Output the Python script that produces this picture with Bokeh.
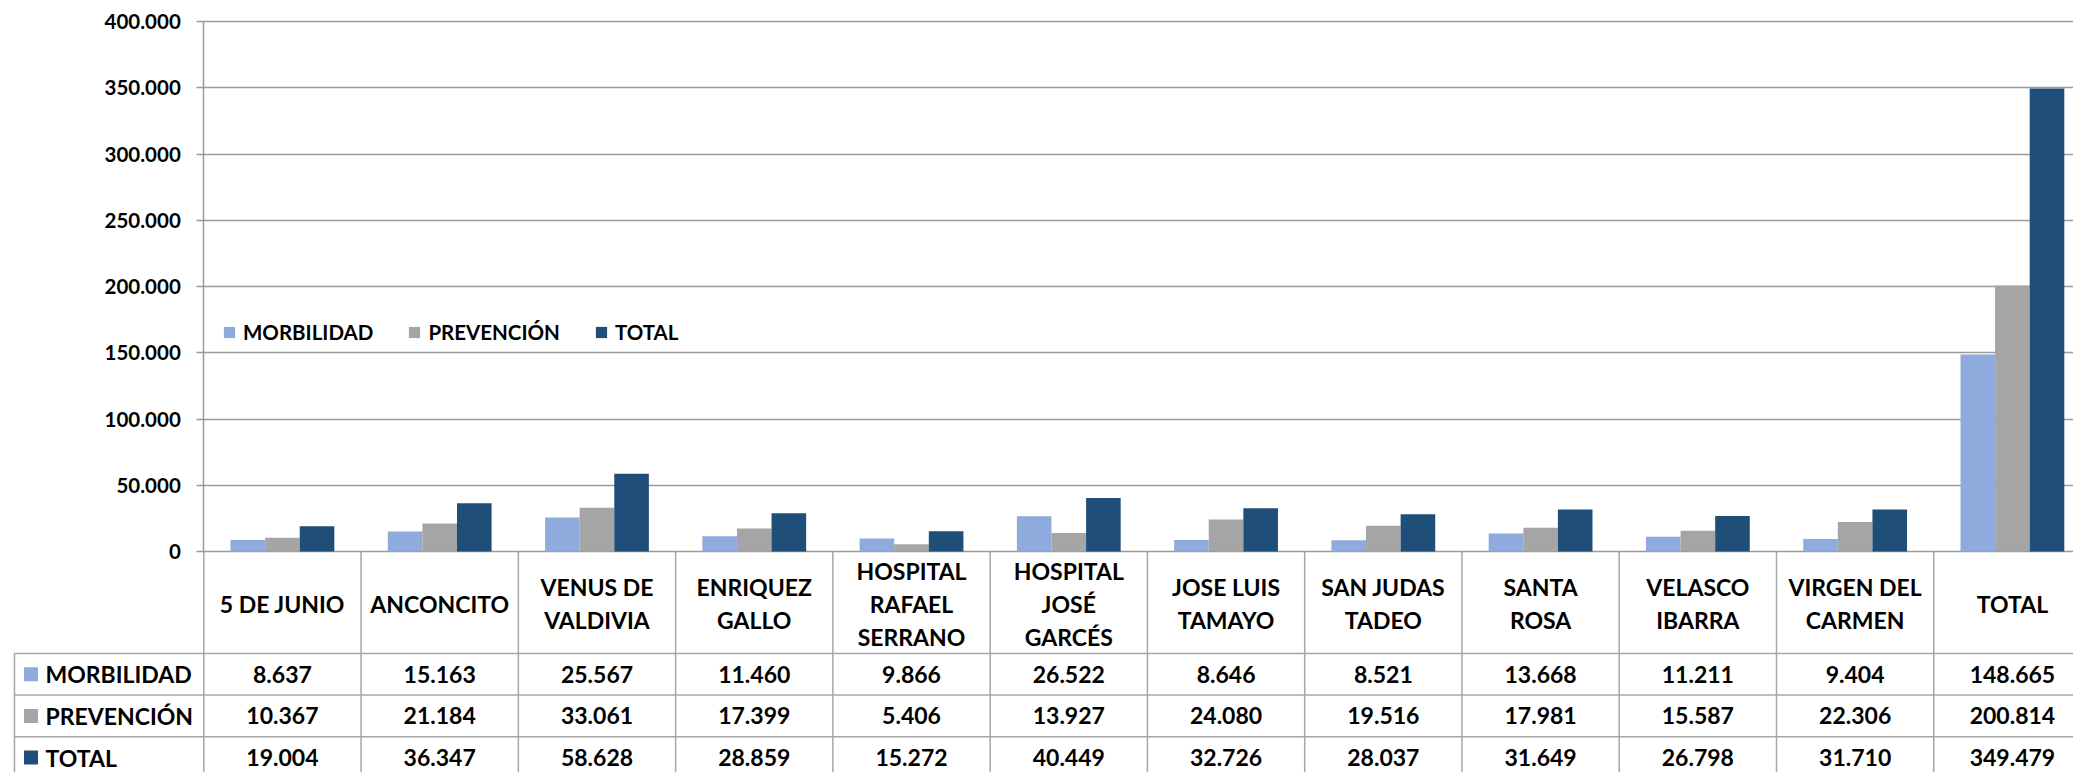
from bokeh.plotting import figure
from bokeh.models import (Range1d, LinearAxis, FixedTicker, Grid, Legend,
                          LegendItem, ColumnDataSource)
from bokeh.transform import dodge
from bokeh.core.properties import value
from bokeh.embed import file_html
from bokeh.resources import INLINE

# ---------------- data ----------------
categories = ["5 DE JUNIO", "ANCONCITO", "VENUS DE\nVALDIVIA", "ENRIQUEZ\nGALLO",
              "HOSPITAL\nRAFAEL\nSERRANO", "HOSPITAL\nJOSÉ\nGARCÉS", "JOSE LUIS\nTAMAYO",
              "SAN JUDAS\nTADEO", "SANTA\nROSA", "VELASCO\nIBARRA", "VIRGEN DEL\nCARMEN",
              "TOTAL"]
morbilidad = [8637, 15163, 25567, 11460, 9866, 26522, 8646, 8521, 13668, 11211, 9404, 148665]
prevencion = [10367, 21184, 33061, 17399, 5406, 13927, 24080, 19516, 17981, 15587, 22306, 200814]
total = [19004, 36347, 58628, 28859, 15272, 40449, 32726, 28037, 31649, 26798, 31710, 349479]
series_names = ["MORBILIDAD", "PREVENCIÓN", "TOTAL"]
y_ticks = [0, 50000, 100000, 150000, 200000, 250000, 300000, 350000, 400000]
y_tick_labels = ["0", "50.000", "100.000", "150.000", "200.000", "250.000",
                 "300.000", "350.000", "400.000"]

# ---------------- styles / layout ----------------
colors = ["#8FAADC", "#A5A5A5", "#1F4E79"]
FONT = "Lato"
LINE = "#9A9A9A"
TABLE_LINE = "#A6A6A6"
TABLE_FS = "23px"
SMALL_FS = "20.5px"

FRAME_W, FRAME_H = 2073, 772
CAT_PX = 157.27          # pixels per category
AXIS_PX = 203.3          # x of the value axis
X0 = -0.5 - AXIS_PX / CAT_PX
X1 = X0 + FRAME_W / CAT_PX
TOP_PX, ZERO_PX = 21, 551
YMAX = y_ticks[-1]
per_px = YMAX / (ZERO_PX - TOP_PX)
Y1 = YMAX + TOP_PX * per_px
Y0 = -(FRAME_H - ZERO_PX) * per_px
ROW_PX = 41.6
ROW0_PX = 653
T1 = ROW0_PX / ROW_PX
T0 = -(FRAME_H - ROW0_PX) / ROW_PX
HEAD = (ROW0_PX - ZERO_PX) / ROW_PX
LEG_LEFT = X0 + 14 / CAT_PX

p = figure(width=FRAME_W, height=FRAME_H, x_range=Range1d(X0, X1), y_range=Range1d(Y0, Y1),
           output_backend="svg", toolbar_location=None, x_axis_location=None,
           y_axis_location=None, min_border=0, outline_line_color=None)
p.extra_y_ranges = {"table": Range1d(T0, T1)}
# drop any default grids
p.center = [r for r in p.center if not isinstance(r, Grid)]

# value axis
yaxis = LinearAxis(ticker=FixedTicker(ticks=y_ticks), fixed_location=-0.5, bounds=(0, YMAX),
                   major_label_overrides={t: l for t, l in zip(y_ticks, y_tick_labels)})
yaxis.axis_line_color = LINE
yaxis.axis_line_width = 1.5
yaxis.major_tick_line_color = LINE
yaxis.major_tick_line_width = 1.5
yaxis.major_tick_in = 0
yaxis.major_tick_out = 7
yaxis.minor_tick_line_color = None
yaxis.major_label_text_font = FONT
yaxis.major_label_text_font_style = "bold"
yaxis.major_label_text_font_size = SMALL_FS
yaxis.major_label_text_color = "black"
yaxis.major_label_standoff = 16
p.add_layout(yaxis, "left")

grid = Grid(dimension=1, ticker=yaxis.ticker, grid_line_color=LINE, grid_line_width=1.5)
grid.cross_bounds = (-0.5, X1 + 1)
p.add_layout(grid)

# bars
src = ColumnDataSource(dict(x=list(range(len(categories))), m=morbilidad, pv=prevencion, t=total))
renderers = []
for field, off, col in zip(["m", "pv", "t"], [-0.22, 0.0, 0.22], colors):
    r = p.vbar(x=dodge("x", off, range=p.x_range), top=field, bottom=0, width=0.22,
               source=src, fill_color=col, line_color=None)
    renderers.append(r)

legend = Legend(items=[LegendItem(label=n, renderers=[r]) for n, r in zip(series_names, renderers)],
                orientation="horizontal", location=(222, 428), spacing=34,
                glyph_width=14, glyph_height=14, label_standoff=7, padding=0, margin=0,
                border_line_color=None, background_fill_alpha=0,
                label_text_font=FONT, label_text_font_style="bold", label_text_font_size=SMALL_FS,
                label_text_color="black")
p.add_layout(legend)

# ---------------- data table ----------------
ncat = len(categories)
vx = [-0.5 + j for j in range(ncat + 1)]
p.segment(x0=vx, x1=vx, y0=[HEAD] * len(vx), y1=[-3.5] * len(vx), y_range_name="table",
          line_color=TABLE_LINE, line_width=1.5)
p.segment(x0=[LEG_LEFT], x1=[LEG_LEFT], y0=[0], y1=[-3.5], y_range_name="table",
          line_color=TABLE_LINE, line_width=1.5)
hy = [0, -1, -2, -3]
p.segment(x0=[LEG_LEFT] * 4, x1=[X1 + 1] * 4, y0=hy, y1=hy, y_range_name="table",
          line_color=TABLE_LINE, line_width=1.5)

# header labels
p.text(x=list(range(ncat)), y=[HEAD / 2 - 0.03] * ncat, text=categories, y_range_name="table",
       text_font=value(FONT), text_font_style="bold", text_font_size=TABLE_FS,
       text_align="center", text_baseline="middle", text_line_height=1.18, text_color="black")

def fmt(v):
    return f"{v:,}".replace(",", ".")

for k, (name, vals, col) in enumerate(zip(series_names, [morbilidad, prevencion, total], colors)):
    yc = -k - 0.5
    p.text(x=list(range(ncat)), y=[yc] * ncat, text=[fmt(v) for v in vals], y_range_name="table",
           text_font=value(FONT), text_font_style="bold", text_font_size=TABLE_FS,
           text_align="center", text_baseline="middle", text_color="black")
    p.scatter(x=[LEG_LEFT + 16.5 / CAT_PX], y=[yc], marker="square", size=14, y_range_name="table",
              fill_color=col, line_color=None)
    p.text(x=[LEG_LEFT + 31 / CAT_PX], y=[yc], text=[name], y_range_name="table",
           text_font=value(FONT), text_font_style="bold", text_font_size=TABLE_FS,
           text_align="left", text_baseline="middle", text_color="black")

open("out.html", "w").write(file_html(p, INLINE))
